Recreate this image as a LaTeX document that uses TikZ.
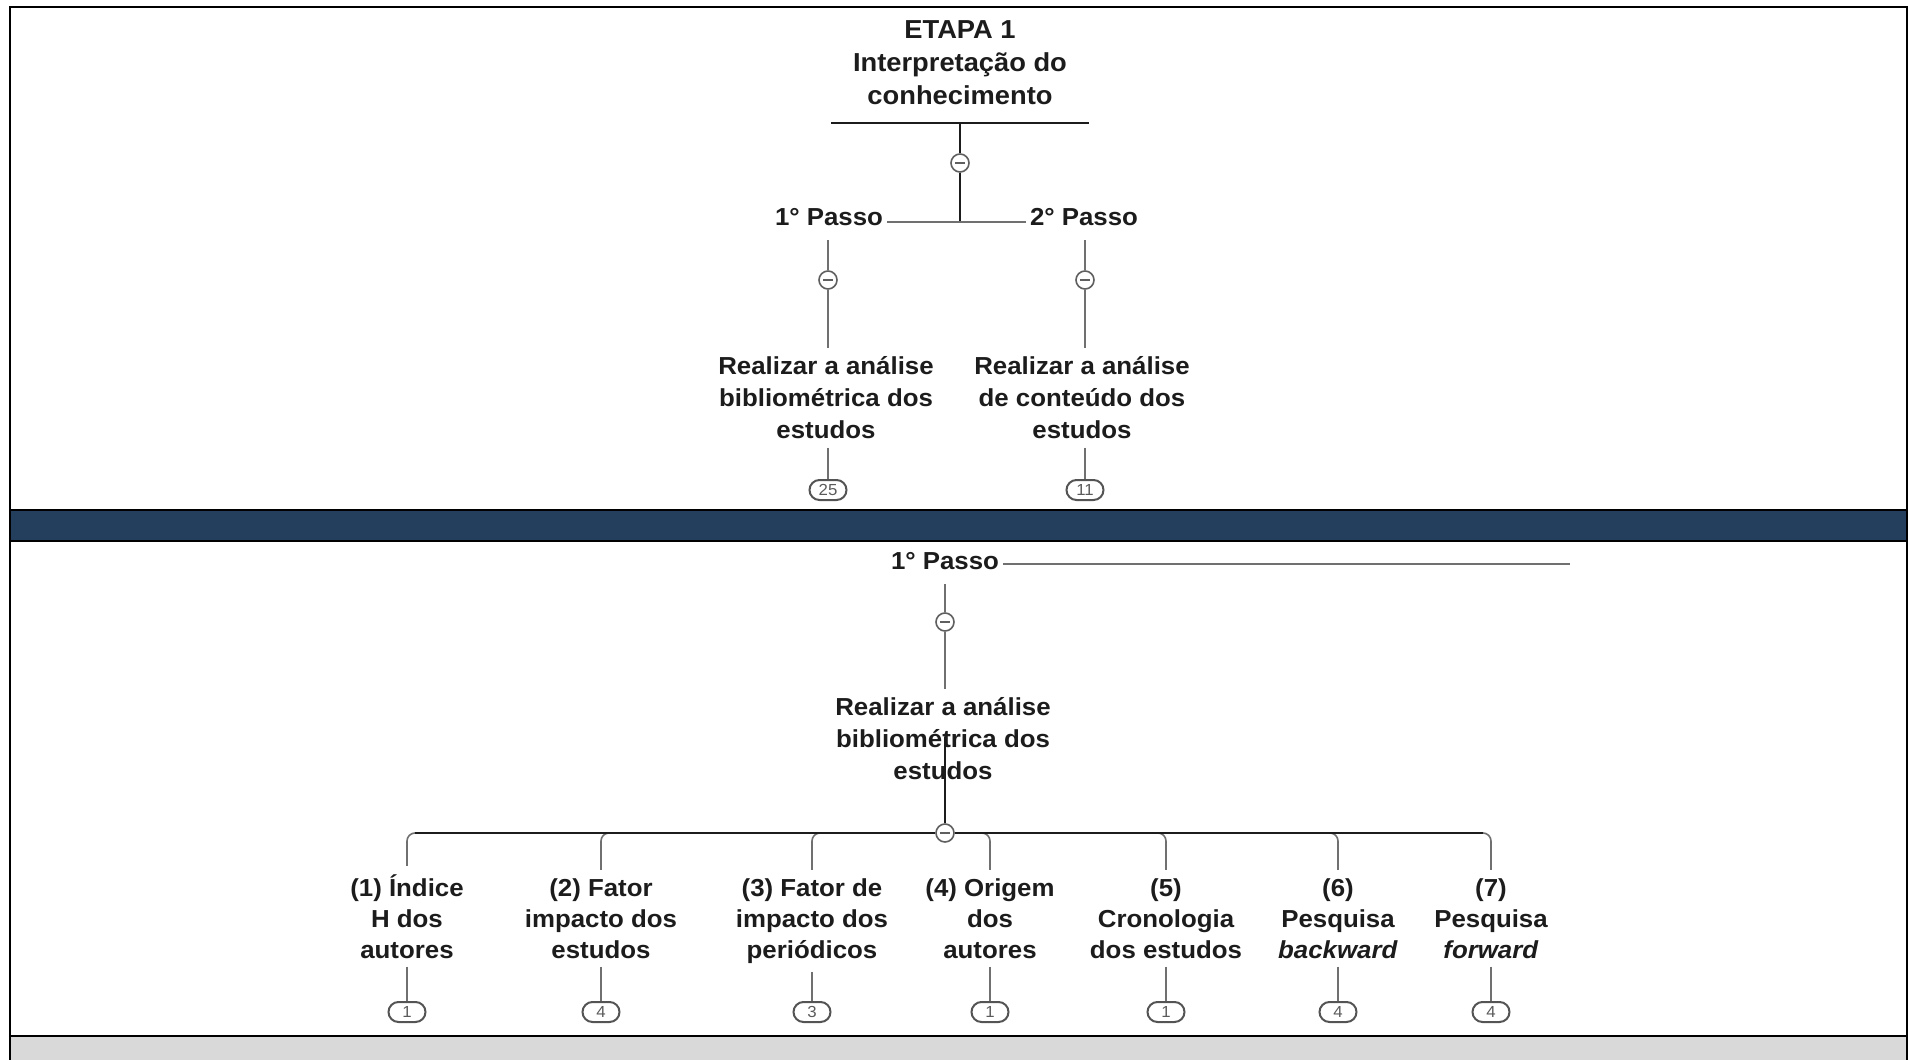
\documentclass[tikz,border=0pt]{standalone}
\usepackage{fontspec}
\setmainfont{Liberation Sans}[FakeStretch=1.05]
\usetikzlibrary{calc}
\definecolor{bandblue}{RGB}{36,62,94}
\definecolor{lnk}{RGB}{112,112,112}
\definecolor{ink}{RGB}{28,28,28}
\definecolor{greybar}{RGB}{217,217,217}

\begin{document}
\begin{tikzpicture}[x=0.5pt,y=-0.5pt,
  txt/.style={font=\bfseries\fontsize{12.3}{16}\selectfont,text=ink,align=center,inner sep=4pt},
  leaf/.style={font=\bfseries\fontsize{12.3}{15.5}\selectfont,text=ink,align=center,inner sep=4pt,
    anchor=base},
  conn/.style={draw=lnk,line width=0.8pt},
  bar/.style={draw=ink,line width=1.2pt},
  minus/.style={circle,draw=lnk!85!black,fill=white,line width=0.8pt,minimum size=9pt,inner sep=0pt,
    path picture={\draw[lnk!85!black,line width=0.7pt] ([xshift=-2.4pt]path picture bounding box.center)
      -- ([xshift=2.4pt]path picture bounding box.center);}},
  badge/.style={draw=lnk!75!black,line width=1pt,rounded corners=5pt,minimum width=18.5pt,
    minimum height=10pt,inner sep=0pt,font=\fontsize{8}{8}\selectfont,text=lnk!80!black}]
  \useasboundingbox (0,0) rectangle (1908,1060);
  % frame and bands
  \draw[line width=1pt] (10,1066) -- (10,7) -- (1907,7) -- (1907,1066);
  \draw[line width=1.1pt,fill=bandblue] (10,510) rectangle (1907,541);
  \draw[line width=1.1pt,fill=greybar] (10,1036) rectangle (1907,1068);

  % upper part
  \node[txt,font=\bfseries\fontsize{13}{16.5}\selectfont] (etapa) at (960,63) {ETAPA 1\\Interpretação do\\conhecimento};
  \coordinate (ulL) at (831,123);
  \coordinate (ulR) at (1089,123);
  \coordinate (ulM) at (960,123);
  \coordinate (j0) at (960,222);
  \draw[ink,line width=1pt] (ulL) -- (ulR);
  \node[minus] (m0) at (960,163) {};
  \draw[ink,line width=0.8pt] (ulM) -- (m0) -- (j0);
  \node[txt,inner sep=2pt] (p1) at (829,217) {1° Passo};
  \node[txt,inner sep=2pt] (p2) at (1084,217) {2° Passo};
  \draw[conn] (p1.east |- j0) -- (p2.west |- j0);

  \node[minus] (m1) at (828,280) {};
  \node[txt] (r1) at (826,398) {Realizar a análise\\bibliométrica dos\\estudos};
  \node[badge] (b1) at (828,490) {25};
  \draw[conn,shorten <=5pt] (p1.south -| m1) -- (m1);
  \draw[conn] (m1) -- (r1.north -| m1);
  \draw[conn] (r1.south -| b1) -- (b1);

  \node[minus] (m2) at (1085,280) {};
  \node[txt] (r2) at (1082,398) {Realizar a análise\\de conteúdo dos\\estudos};
  \node[badge] (b2) at (1085,490) {11};
  \draw[conn,shorten <=5pt] (p2.south -| m2) -- (m2);
  \draw[conn] (m2) -- (r2.north -| m2);
  \draw[conn] (r2.south -| b2) -- (b2);

  % lower part
  \node[txt,inner sep=2pt] (q1) at (945,561) {1° Passo};
  \coordinate (qe) at (1570,564);
  \draw[conn] (q1.east |- qe) -- (qe);
  \node[minus] (m3) at (945,622) {};
  \node[txt] (r3) at (943,739) {Realizar a análise\\bibliométrica dos\\estudos};
  \draw[conn,shorten <=5pt] (q1.south -| m3) -- (m3);
  \draw[conn] (m3) -- (r3.north -| m3);
  \node[minus] (m4) at (945,833) {};
  \coordinate (k) at (945,737);
  \draw[ink,line width=1.3pt] (k) -- (m4);

  \node[leaf] (l1) at (407,958) {(1) Índice\\H dos\\autores};
  \node[leaf] (l2) at (601,958) {(2) Fator\\impacto dos\\estudos};
  \node[leaf] (l3) at (812,958) {(3) Fator de\\impacto dos\\periódicos};
  \node[leaf] (l4) at (990,958) {(4) Origem\\dos\\autores};
  \node[leaf] (l5) at (1166,958) {(5)\\Cronologia\\dos estudos};
  \node[leaf] (l6) at (1338,958) {(6)\\Pesquisa\\\textit{backward}};
  \node[leaf] (l7) at (1491,958) {(7)\\Pesquisa\\\textit{forward}};

  \node[badge] (c1) at (407,1012) {1};
  \node[badge] (c2) at (601,1012) {4};
  \node[badge] (c3) at (812,1012) {3};
  \node[badge] (c4) at (990,1012) {1};
  \node[badge] (c5) at (1166,1012) {1};
  \node[badge] (c6) at (1338,1012) {4};
  \node[badge] (c7) at (1491,1012) {4};

  \draw[conn,rounded corners=4pt] (m4) -| (l1);
  \draw[conn,rounded corners=4pt] (m4) -| (l2);
  \draw[conn,rounded corners=4pt] (m4) -| (l3);
  \draw[conn,rounded corners=4pt] (m4) -| (l4);
  \draw[conn,rounded corners=4pt] (m4) -| (l5);
  \draw[conn,rounded corners=4pt] (m4) -| (l6);
  \draw[conn,rounded corners=4pt] (m4) -| (l7);
  \coordinate (barL) at (415,833);
  \coordinate (barR) at (1483,833);
  \draw[bar] (barL) -- (m4) -- (barR);

  \draw[conn] (l1) -- (c1);
  \draw[conn] (l2) -- (c2);
  \draw[conn] (l3) -- (c3);
  \draw[conn] (l4) -- (c4);
  \draw[conn] (l5) -- (c5);
  \draw[conn] (l6) -- (c6);
  \draw[conn] (l7) -- (c7);
\end{tikzpicture}
\end{document}
